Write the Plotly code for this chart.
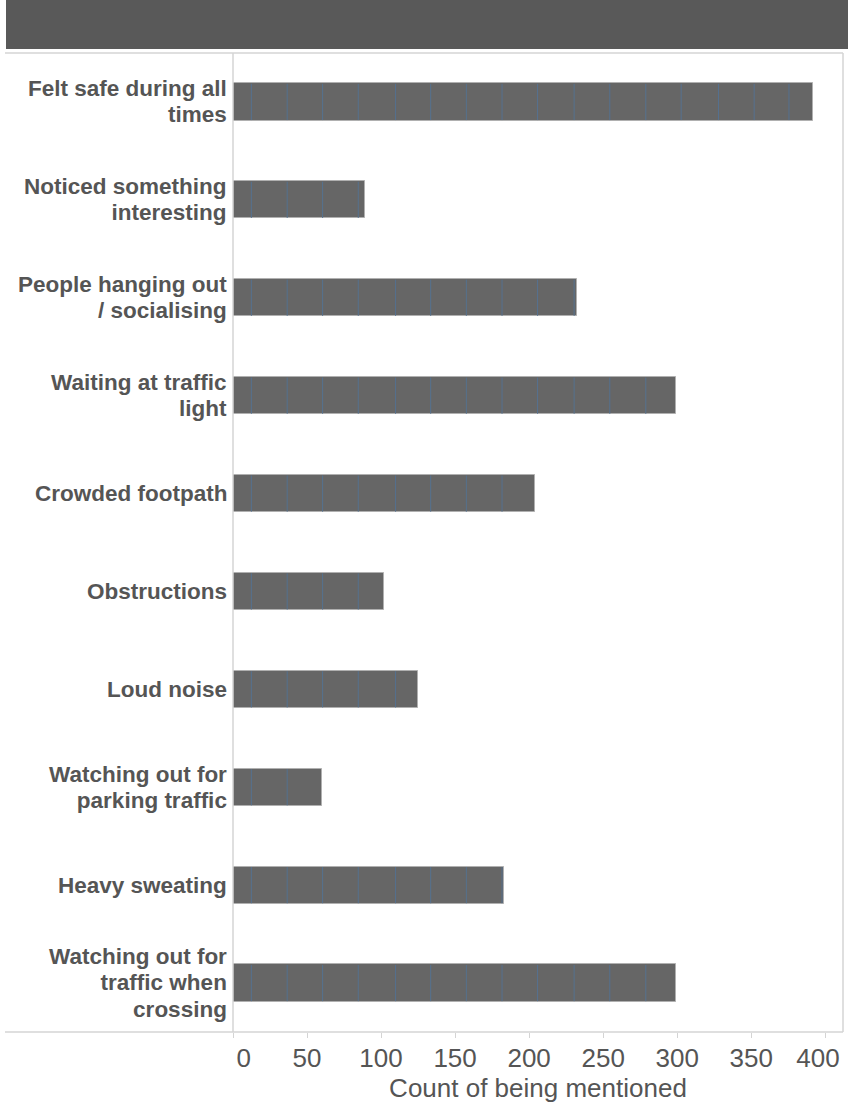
import plotly.graph_objects as go

# ---- data ----
categories = [
    "Felt safe during all\ntimes",
    "Noticed something\ninteresting",
    "People hanging out\n/ socialising",
    "Waiting at traffic\nlight",
    "Crowded footpath",
    "Obstructions",
    "Loud noise",
    "Watching out for\nparking traffic",
    "Heavy sweating",
    "Watching out for\ntraffic when\ncrossing",
]
counts = [392, 89, 232, 299, 204, 102, 125, 60, 183, 299]
# positions (in count units) of the thin segment separators drawn inside bars
segment_edges = [12.4, 36.6, 60.5, 84.6, 109.8, 133.5, 157.6, 181.7, 205.7,
                 230.4, 254.5, 278.8, 302.7, 327.9, 352.0, 375.5]
x_ticks = [0, 50, 100, 150, 200, 250, 300, 350, 400]
x_ticklabels = ["\u00a0\u00a0\u00a00", "50", "100", "150", "200", "250",
                "300", "350", "400\u00a0\u00a0"]

BAR_W = 0.38
LABEL_SIZE = 22.5      # glyph size of the category labels
LINE_BASE = 20.2       # base size that sets the line spacing: 1.3 * base
ypos = list(range(len(categories)))

fig = go.Figure()
fig.add_trace(go.Bar(
    x=counts, y=ypos, orientation="h", width=BAR_W,
    marker=dict(color="#666666", line=dict(color="#b0b0b0", width=1)),
    hoverinfo="skip", showlegend=False,
))

sx, sy = [], []
for i, v in enumerate(counts):
    for e in segment_edges:
        if e < v:
            sx += [e, e, None]
            sy += [i - BAR_W / 2 + 0.005, i + BAR_W / 2 - 0.005, None]
fig.add_trace(go.Scatter(
    x=sx, y=sy, mode="lines", line=dict(color="#55718f", width=1),
    hoverinfo="skip", showlegend=False,
))

L, R, T, B = 233, 16, 53, 76
W, H = 859, 1108
pw = W - L - R
ph = H - T - B

def px_to_paper_x(px):
    return (px - L) / pw

def px_to_paper_y(py):
    return 1 - (py - T) / ph

shapes = [
    dict(type="rect", xref="paper", yref="paper",
         x0=px_to_paper_x(6), x1=px_to_paper_x(848),
         y0=px_to_paper_y(49), y1=px_to_paper_y(0),
         fillcolor="#595959", line=dict(width=0), layer="above"),
    dict(type="line", xref="paper", yref="paper",
         x0=px_to_paper_x(5), x1=1, y0=1, y1=1,
         line=dict(color="#d4d4d4", width=1.5)),
    dict(type="line", xref="paper", yref="paper",
         x0=px_to_paper_x(5), x1=1, y0=0, y1=0,
         line=dict(color="#d4d4d4", width=1.5)),
    dict(type="line", xref="paper", yref="paper",
         x0=1, x1=1, y0=0, y1=1,
         line=dict(color="#d4d4d4", width=1.5)),
    dict(type="line", xref="paper", yref="paper",
         x0=0, x1=0, y0=0, y1=1,
         line=dict(color="#d4d4d4", width=1.5)),
]

annotations = []
for i, c in enumerate(categories):
    lines = c.split("\n")
    txt = "<br>".join(
        '<span style="font-size:%spx"><b>%s</b></span>' % (LABEL_SIZE, ln)
        for ln in lines)
    annotations.append(dict(
        x=0, xref="paper", y=i, yref="y",
        xanchor="right", yanchor="middle", align="right",
        xshift=-5, text=txt, showarrow=False, borderpad=0,
        font=dict(size=LINE_BASE, color="#555555"),
    ))

fig.update_layout(
    width=W, height=H,
    margin=dict(l=L, r=R, t=T, b=B, pad=0),
    paper_bgcolor="white", plot_bgcolor="white",
    font=dict(family="Liberation Sans, Arial, sans-serif", color="#555555"),
    shapes=shapes,
    annotations=annotations,
    bargap=0,
    xaxis=dict(
        range=[0, 412], tickvals=x_ticks, ticktext=x_ticklabels,
        automargin=False,
        showgrid=False, zeroline=False, showline=False,
        ticks="outside", ticklen=5, tickcolor="#d4d4d4", tickwidth=1,
        ticklabelstandoff=-2,
        tickfont=dict(size=26, color="#555555"),
        title=dict(text="Count of being mentioned", standoff=3,
                   font=dict(size=26, color="#555555")),
    ),
    yaxis=dict(
        range=[len(categories) - 0.5, -0.5],
        tickvals=ypos, showticklabels=False, automargin=False,
        showgrid=False, zeroline=False, showline=False, ticks="",
    ),
)

fig.write_html("out.html")
